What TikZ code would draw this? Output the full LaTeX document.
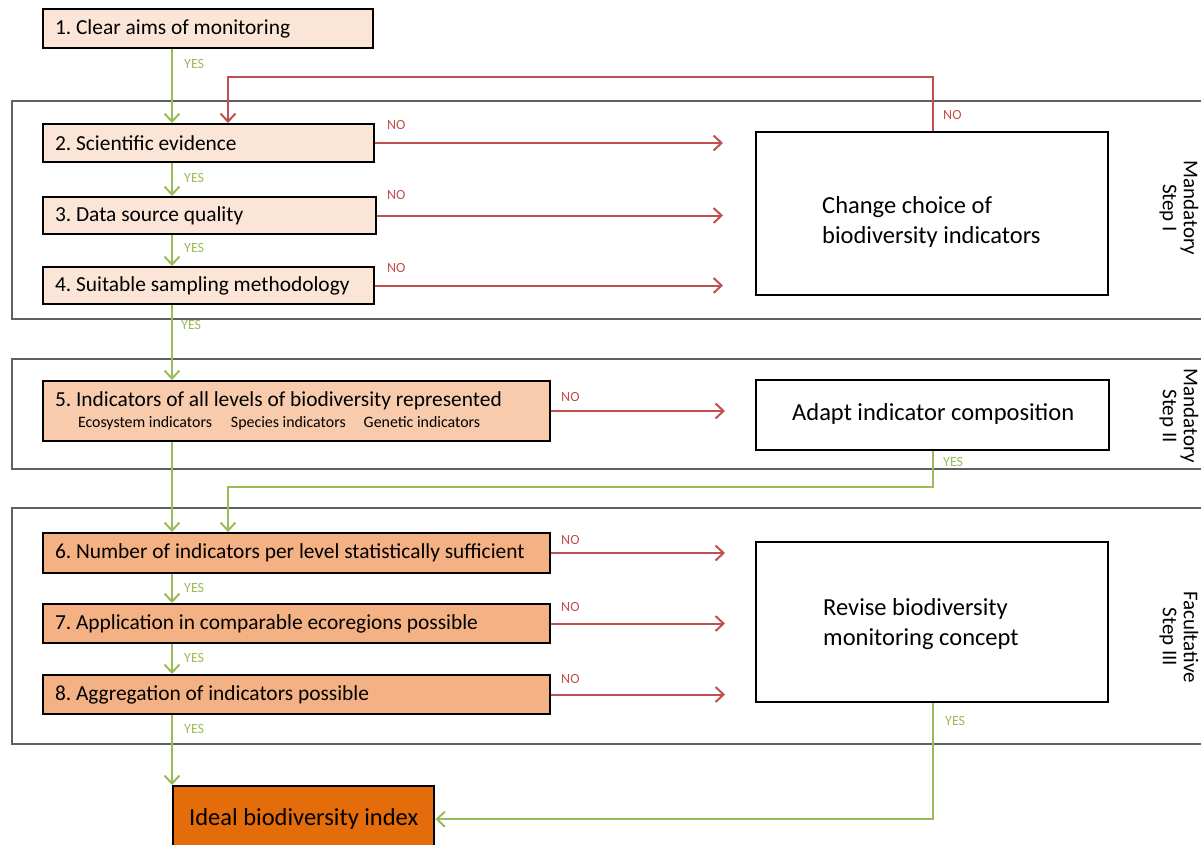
\documentclass[tikz,border=0pt]{standalone}
\usepackage{fontspec}
\setmainfont{Carlito}
\frenchspacing
\usetikzlibrary{arrows.meta}
\newcommand\fixspaces{\spaceskip=0pt\relax\xspaceskip=0pt\relax}
\definecolor{palebox}{HTML}{FBE5D6}
\definecolor{midbox}{HTML}{F8CBAD}
\definecolor{darkbox}{HTML}{F4B183}
\definecolor{finalbox}{HTML}{E46C0A}
\definecolor{grn}{HTML}{9BBB59}
\definecolor{rd}{HTML}{C0504D}
\definecolor{framec}{HTML}{606060}
\tikzset{
  lbox/.style={draw=black, line width=2pt, anchor=north west, inner xsep=12pt, inner ysep=0pt, align=left, execute at begin node=\fixspaces, font=\fontsize{21.4}{24}\selectfont},
  rbox/.style={draw=black, line width=2.4pt, fill=white, anchor=north west, inner sep=0pt},
  rtext/.style={anchor=west, inner sep=0pt, align=left, execute at begin node=\fixspaces, font=\fontsize{24.5}{30}\selectfont},
  yesarr/.style={draw=grn, line width=2pt, -{Straight Barb[length=8pt,width=15pt,line width=2pt]}},
  noarr/.style={draw=rd, line width=2pt, -{Straight Barb[length=8pt,width=15pt,line width=2pt]}},
  yeslbl/.style={text=grn, anchor=west, inner sep=0pt, font=\fontsize{14}{16}\selectfont},
  nolbl/.style={text=rd, anchor=west, inner sep=0pt, font=\fontsize{14}{16}\selectfont},
  framebox/.style={draw=framec, line width=1.4pt},
  sidelbl/.style={rotate=-90, align=center, inner sep=0pt, execute at begin node=\fixspaces, font=\fontsize{21}{21}\selectfont},
}
\begin{document}
\begin{tikzpicture}[x=1pt,y=-1pt]
\useasboundingbox (0,0) rectangle (1201,845);
\clip (0,0) rectangle (1201,845);
\fill[white] (0,0) rectangle (1201,845);
% frames
\draw[framebox] (12,101) rectangle (1215,319);
\draw[framebox] (12,359) rectangle (1215,469);
\draw[framebox] (12,508) rectangle (1215,744);
% side labels
\node[sidelbl] (s1) at (1179,208) {Mandatory\\Step I};
\node[sidelbl] (s2) at (1179,416) {Mandatory\\Step II};
\node[sidelbl] (s3) at (1179,637) {Facultative\\Step III};
% left boxes
\node[lbox, fill=palebox, text width=306pt, minimum height=39pt] (b1) at (42,8) {1. Clear aims of monitoring};
\node[lbox, fill=palebox, text width=307pt, minimum height=38pt] (b2) at (42,123) {2. Scientific evidence};
\node[lbox, fill=palebox, text width=309pt, minimum height=37pt] (b3) at (42,196) {3. Data source quality};
\node[lbox, fill=palebox, text width=307pt, minimum height=37pt] (b4) at (42,266) {4. Suitable sampling methodology};
\node[lbox, fill=midbox, text width=483pt, minimum height=60pt] (b5) at (42,380) {5. Indicators of all levels of biodiversity represented\\[-3pt]{\fontsize{15.9}{18}\selectfont\hspace{23pt}Ecosystem indicators\hspace{19pt}Species indicators\hspace{18pt}Genetic indicators}};
\node[lbox, fill=darkbox, text width=483pt, minimum height=40pt] (b6) at (42,532) {6. Number of indicators per level statistically sufficient};
\node[lbox, fill=darkbox, text width=483pt, minimum height=39pt] (b7) at (42,603) {7. Application in comparable ecoregions possible};
\node[lbox, fill=darkbox, text width=483pt, minimum height=39pt] (b8) at (42,674) {8. Aggregation of indicators possible};
% right boxes
\node[rbox, minimum width=352pt, minimum height=163pt] (ch) at (755,131) {};
\node[rtext] (cht) at (822,222) {Change choice of\\biodiversity indicators};
\node[rbox, minimum width=353pt, minimum height=70pt] (ad) at (755,379) {};
\node[rtext] (adt) at (792,414) {Adapt indicator composition};
\node[rbox, minimum width=352pt, minimum height=160pt] (rv) at (755,541) {};
\node[rtext] (rvt) at (823,624) {Revise biodiversity\\monitoring concept};
% final
\node[draw=black, line width=2.4pt, fill=finalbox, anchor=north west, minimum width=261pt, minimum height=66pt, inner sep=0pt, font=\fontsize{24.5}{30}\selectfont] (fin) at (172,785) {Ideal biodiversity index};
% coordinates
\coordinate (redA) at (723,0);
\coordinate (redB) at (725,0);
\coordinate (fb) at (228,77);
\coordinate (j1) at (228,487);
% green arrows
\draw[yesarr] ([xshift=130pt]b1.south west) -- ([xshift=130pt]b2.north west);
\draw[yesarr] ([xshift=130pt]b2.south west) -- ([xshift=130pt]b3.north west);
\draw[yesarr] ([xshift=130pt]b3.south west) -- ([xshift=130pt]b4.north west);
\draw[yesarr] ([xshift=130pt]b4.south west) -- ([xshift=130pt]b5.north west);
\draw[yesarr] ([xshift=130pt]b5.south west) -- ([xshift=130pt]b6.north west);
\draw[yesarr] ([xshift=130pt]b6.south west) -- ([xshift=130pt]b7.north west);
\draw[yesarr] ([xshift=130pt]b7.south west) -- ([xshift=130pt]b8.north west);
\draw[yesarr] ([xshift=130pt]b8.south west) -- (fin.north west);
\draw[yesarr] ([xshift=178pt]ad.south west) |- (j1) -- ([xshift=186pt]b6.north west);
\draw[yesarr] ([xshift=178pt]rv.south west) |- (fin.east);
% red arrows
\draw[noarr] (b2.east) -- (b2.east -| redA);
\draw[noarr] (b3.east) -- (b3.east -| redA);
\draw[noarr] (b4.east) -- (b4.east -| redA);
\draw[noarr] (b5.east) -- (b5.east -| redB);
\draw[noarr] (b6.east) -- (b6.east -| redB);
\draw[noarr] (b7.east) -- (b7.east -| redB);
\draw[noarr] (b8.east) -- (b8.east -| redB);
\draw[noarr] ([xshift=178pt]ch.north west) |- (fb) -- ([xshift=186pt]b2.north west);
% labels
\node[yeslbl] (y1) at (184,64) {YES};
\node[yeslbl] (y2) at (184,178) {YES};
\node[yeslbl] (y3) at (184,248) {YES};
\node[yeslbl] (y4) at (181,325) {YES};
\node[yeslbl] (y5) at (184,588) {YES};
\node[yeslbl] (y6) at (184,658) {YES};
\node[yeslbl] (y7) at (184,729) {YES};
\node[yeslbl] (y8) at (943,462) {YES};
\node[yeslbl] (y9) at (945,721) {YES};
\node[nolbl] (n1) at (387,125) {NO};
\node[nolbl] (n2) at (387,195) {NO};
\node[nolbl] (n3) at (387,268) {NO};
\node[nolbl] (n4) at (561,397) {NO};
\node[nolbl] (n5) at (561,540) {NO};
\node[nolbl] (n6) at (561,607) {NO};
\node[nolbl] (n7) at (561,679) {NO};
\node[nolbl] (n8) at (943,115) {NO};
\end{tikzpicture}
\end{document}
